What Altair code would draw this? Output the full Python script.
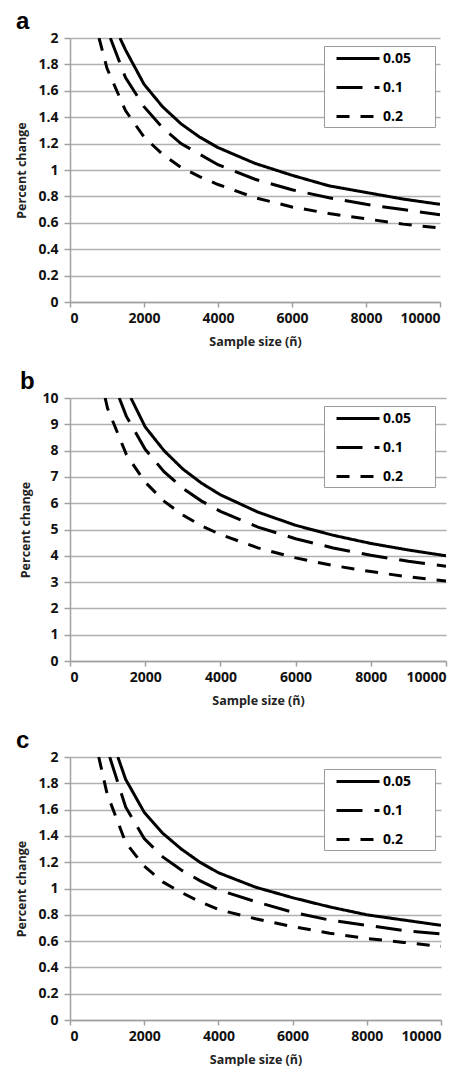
import altair as alt
import pandas as pd

SERIES = ["0.05", "0.1", "0.2"]
X_TICKS = [0, 2000, 4000, 6000, 8000, 10000]
Y_TICKS_SMALL = [0, 0.2, 0.4, 0.6, 0.8, 1, 1.2, 1.4, 1.6, 1.8, 2]
Y_TICKS_BIG = [0, 1, 2, 3, 4, 5, 6, 7, 8, 9, 10]

# ---- panel a ----
a_n_005 = [1350, 1500, 2000, 2500, 3000, 3500, 4000, 5000, 6000, 7000, 8000, 9000, 10000]
a_v_005 = [2.0, 1.91, 1.65, 1.48, 1.35, 1.25, 1.17, 1.05, 0.96, 0.88, 0.83, 0.78, 0.74]
a_n_01 = [1090, 1500, 2000, 2500, 3000, 3500, 4000, 5000, 6000, 7000, 8000, 9000, 10000]
a_v_01 = [2.0, 1.70, 1.48, 1.32, 1.20, 1.12, 1.04, 0.93, 0.85, 0.79, 0.74, 0.70, 0.66]
a_n_02 = [785, 1000, 1500, 2000, 2500, 3000, 3500, 4000, 5000, 6000, 7000, 8000, 9000, 10000]
a_v_02 = [2.0, 1.77, 1.45, 1.25, 1.12, 1.02, 0.95, 0.89, 0.79, 0.72, 0.67, 0.63, 0.59, 0.56]

# ---- panel b ----
b_n_005 = [1620, 2000, 2500, 3000, 3500, 4000, 5000, 6000, 7000, 8000, 9000, 10000]
b_v_005 = [10.0, 8.9, 8.0, 7.3, 6.76, 6.32, 5.66, 5.16, 4.78, 4.47, 4.22, 4.0]
b_n_01 = [1310, 1500, 2000, 2500, 3000, 3500, 4000, 5000, 6000, 7000, 8000, 9000, 10000]
b_v_01 = [10.0, 9.3, 8.05, 7.2, 6.57, 6.08, 5.69, 5.09, 4.65, 4.30, 4.02, 3.79, 3.6]
b_n_02 = [935, 1000, 1500, 2000, 2500, 3000, 3500, 4000, 5000, 6000, 7000, 8000, 9000, 10000]
b_v_02 = [10.0, 9.6, 7.85, 6.8, 6.08, 5.55, 5.14, 4.81, 4.30, 3.92, 3.63, 3.40, 3.20, 3.04]

# ---- panel c ----
c_n_005 = [1290, 1500, 2000, 2500, 3000, 3500, 4000, 5000, 6000, 7000, 8000, 9000, 10000]
c_v_005 = [2.0, 1.83, 1.58, 1.42, 1.30, 1.20, 1.12, 1.01, 0.93, 0.86, 0.80, 0.76, 0.72]
c_n_01 = [1070, 1500, 2000, 2500, 3000, 3500, 4000, 5000, 6000, 7000, 8000, 9000, 10000]
c_v_01 = [2.0, 1.62, 1.38, 1.24, 1.14, 1.06, 0.99, 0.90, 0.82, 0.76, 0.72, 0.68, 0.655]
c_n_02 = [775, 1000, 1500, 2000, 2500, 3000, 3500, 4000, 5000, 6000, 7000, 8000, 9000, 10000]
c_v_02 = [2.0, 1.72, 1.35, 1.17, 1.05, 0.97, 0.90, 0.84, 0.77, 0.71, 0.66, 0.62, 0.59, 0.56]

FONT = "Open Sans"


def make_df(parts):
    rows = []
    for s, ns, vs in parts:
        for n, v in zip(ns, vs):
            rows.append({"n": n, "value": v, "series": s})
    return pd.DataFrame(rows)


def panel(df, letter, ymax, yticks, yfmt, width, height, legend_y):
    return alt.Chart(df).mark_line(
        color="black", strokeWidth=3, strokeCap="butt", clip=True
    ).encode(
        x=alt.X("n:Q", scale=alt.Scale(domain=[0, 10000], nice=False),
                axis=alt.Axis(values=X_TICKS, format="d", title="Sample size (ñ)",
                              grid=False, tickSize=5, labelPadding=4, titlePadding=10)),
        y=alt.Y("value:Q", scale=alt.Scale(domain=[0, ymax], nice=False),
                axis=alt.Axis(values=yticks, format=yfmt, title="Percent change",
                              grid=True, tickSize=6, labelPadding=6, titlePadding=9)),
        strokeDash=alt.StrokeDash(
            "series:N",
            scale=alt.Scale(domain=SERIES, range=[[1, 0], [26, 12], [13, 11]]),
            legend=alt.Legend(
                title=None, orient="none", legendX=254, legendY=legend_y,
                fillColor="white", strokeColor="#999999", padding=3,
                symbolType="M0,0H5.375", symbolSize=256,
                symbolStrokeWidth=3, symbolStrokeColor="black",
                labelFont=FONT, labelFontSize=14, labelFontWeight="bold",
                labelColor="black", labelOffset=37, rowPadding=12,
                labelExpr="datum.label + '\u2800\u2800'",
            ),
        ),
    ).properties(
        width=width, height=height,
        title=alt.TitleParams(letter, anchor="start", offset=-3),
    )


df_a = make_df([("0.05", a_n_005, a_v_005), ("0.1", a_n_01, a_v_01), ("0.2", a_n_02, a_v_02)])
df_b = make_df([("0.05", b_n_005, b_v_005), ("0.1", b_n_01, b_v_01), ("0.2", b_n_02, b_v_02)])
df_c = make_df([("0.05", c_n_005, c_v_005), ("0.1", c_n_01, c_v_01), ("0.2", c_n_02, c_v_02)])

pa = panel(df_a, "a", 2, Y_TICKS_SMALL, ".1~f", 370, 264, 8)
pb = panel(df_b, "b", 10, Y_TICKS_BIG, "d", 376, 263, 8)
pc = panel(df_c, "c", 2, Y_TICKS_SMALL, ".1~f", 371, 263, 12)

chart = alt.vconcat(pa, pb, pc, spacing=22).resolve_scale(strokeDash="independent").configure_view(
    stroke=None
).configure_axis(
    labelFont=FONT, labelFontSize=14, labelFontWeight="bold", labelColor="#111111",
    titleFont=FONT, titleFontSize=12.5, titleFontWeight="bold", titleColor="#222222",
    domainColor="#a0a0a0", tickColor="#a0a0a0", gridColor="#b0b0b0",
    domainWidth=1.5, tickWidth=1.5, gridWidth=1.5,
).configure_title(
    font="Liberation Sans", fontSize=24, fontWeight="bold", color="black"
).properties(background="white", padding={"left": 7, "top": 2, "right": 5, "bottom": 0})

chart.save("out.html", embed_options={"renderer": "svg", "actions": False})
